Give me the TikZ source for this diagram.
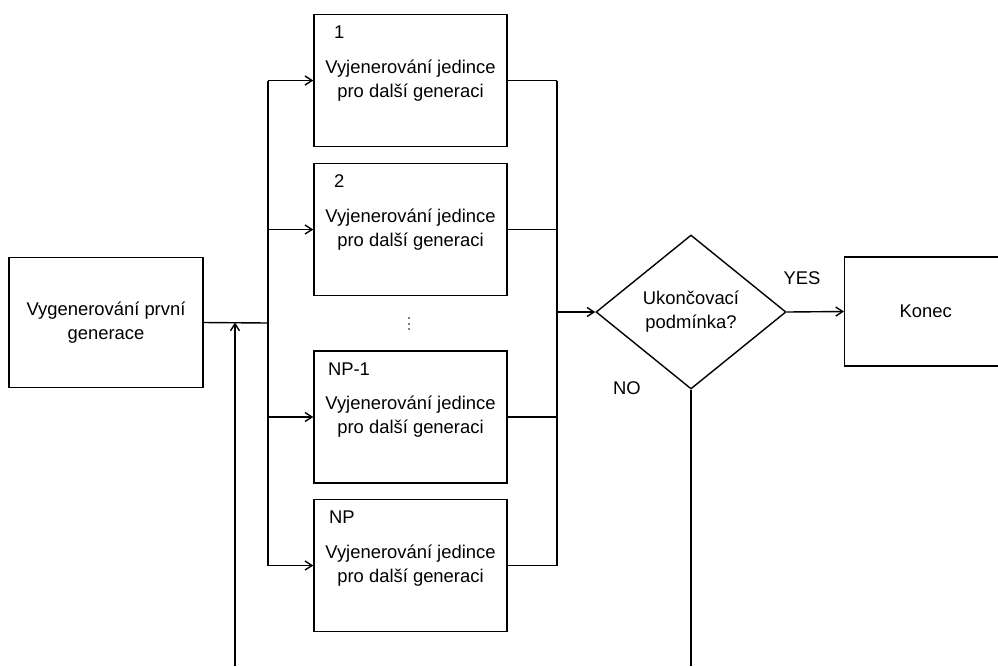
\documentclass[tikz,border=0pt]{standalone}
\usepackage{fontspec}
\setmainfont{Liberation Sans}
\usetikzlibrary{
  shapes.geometric,
  arrows.meta
}

\begin{document}
\begin{tikzpicture}[
  >={Straight Barb[length=3.5pt,width=4.5pt]},
  x=0.5pt, y=-0.5pt,
  every node/.style={font=\fontsize{9.2}{12}\selectfont},
  every path/.style={line width=0.7pt},
  block/.style={draw, align=center, inner sep=0pt},
  genbox/.style={block, minimum width=96.5pt, minimum height=66pt},
  tag/.style={anchor=west, inner sep=0pt},
]
\useasboundingbox (0,0) rectangle (998,666);
\node[block, minimum width=97pt, minimum height=65pt] (start) at (106,322.5) {Vygenerování první\\generace};
\node[genbox] (gen1) at (410.5,80.5) {Vyjenerování jedince\\pro další generaci};
\node[genbox] (gen2) at (410.5,229.5) {Vyjenerování jedince\\pro další generaci};
\node[genbox] (gen3) at (410.5,417) {Vyjenerování jedince\\pro další generaci};
\node[genbox] (gen4) at (410.5,565.5) {Vyjenerování jedince\\pro další generaci};
\node[tag] (tag1) at ([shift={(20,18)}]gen1.north west) {1};
\node[tag] (tag2) at ([shift={(20,18)}]gen2.north west) {2};
\node[tag] (tag3) at ([shift={(14,19)}]gen3.north west) {NP-1};
\node[tag] (tag4) at ([shift={(15,18)}]gen4.north west) {NP};
\foreach \y in {318,324,329}
  \fill (409,\y) circle[radius=0.8];
\node[draw, diamond, aspect=1.23, minimum width=95pt, minimum height=77pt, inner sep=0pt, align=center] (cond) at (691,312) {Ukončovací\\podmínka?};
\node[block, anchor=west, minimum width=81pt, minimum height=54.5pt] (konec) at (844,311.5) {Konec};
\node (yes) at (802,278) {YES};
\node (no) at (627,388) {NO};
\coordinate (split) at (268,323);
\coordinate (join) at (557,312);
\coordinate (noout) at (691,666);
\coordinate (loopin) at (235,666);
% rozvetveni do jednotlivych jedincu
\draw (start.east) -- (split);
\draw (split |- gen1.west) -- (split |- gen4.west);
\foreach \g in {gen1,gen2,gen3,gen4}
  \draw[->] (split |- \g.west) -- (\g.west);
\foreach \g in {gen1,gen2,gen3,gen4}
  \draw (\g.east) -- (join |- \g.east);
\draw (join |- gen1.east) -- (join |- gen4.east);
\draw[->] (join) -- (cond.west);
\draw[->] (cond.east) -- (konec.west);
\draw (cond.south) -- (noout);
\draw[->] (loopin) -- (loopin |- start.east);
\end{tikzpicture}
\end{document}
